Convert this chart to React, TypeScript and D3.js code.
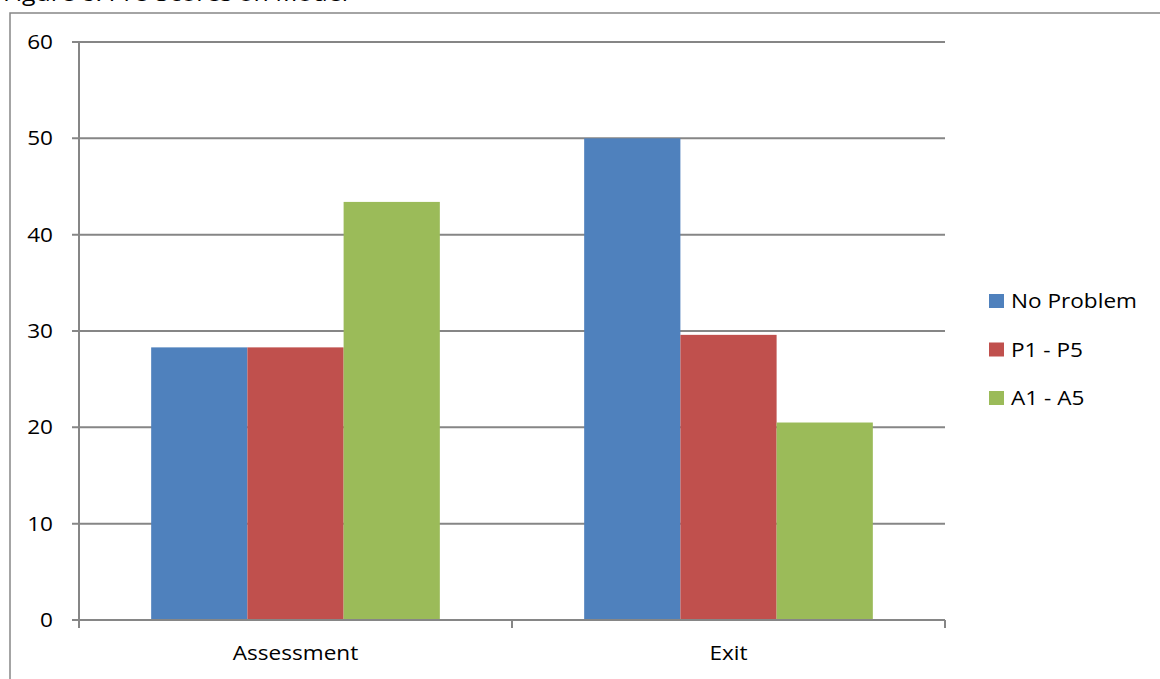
import React from "react";
import * as d3 from "d3";

const categories = ["Assessment", "Exit"];
const seriesNames = ["No Problem", "P1 - P5", "A1 - A5"];
const noProblem = [28.3, 50.0];
const p1p5 = [28.3, 29.6];
const a1a5 = [43.4, 20.5];
const yTicks = [0, 10, 20, 30, 40, 50, 60];
const colors = ["#4F81BD", "#C0504D", "#9BBB59"];
const titleText = "Figure 8: Pre-Scores on Model";

const font = "Open Sans, sans-serif";
const SX = 1.13;

function T(props: { x: number; y: number; anchor?: string; size?: number; children: React.ReactNode }) {
  const { x, y, anchor = "start", size = 20, children } = props;
  return (
    <text transform={`translate(${x},${y}) scale(${SX},1)`} textAnchor={anchor as any} dy="0.35em"
      fontFamily={font} fontSize={size} fill="#000">{children}</text>
  );
}

export default function App() {
  const W = 1160, H = 679;
  const left = 79, right = 945, top = 42, bottom = 620;
  const x = d3.scaleBand<string>().domain(categories).range([left, right]).paddingInner(0).paddingOuter(0);
  const y = d3.scaleLinear().domain([0, 60]).range([bottom, top]);
  const seriesVals = [noProblem, p1p5, a1a5];
  const bw = x.bandwidth();
  const inner = d3.scaleBand<number>().domain([0, 1, 2]).range([bw / 6, bw - bw / 6]).padding(0);
  const grid = "#868686";
  return (
    <svg width={W} height={H} style={{ position: "absolute", left: 0, top: 0, background: "#fff" }}>
      <text transform={`translate(3,1) scale(${SX},1)`} fontFamily={font} fontSize={22} fill="#000">{titleText}</text>
      <rect x={10} y={13} width={1200} height={800} fill="none" stroke={grid} strokeWidth={1.5} />
      {yTicks.map((t) => (
        <g key={t}>
          <line x1={72} x2={right} y1={y(t)} y2={y(t)} stroke={grid} strokeWidth={2} />
          <T x={53} y={y(t)} anchor="end">{t}</T>
        </g>
      ))}
      <line x1={left} x2={left} y1={top} y2={bottom} stroke={grid} strokeWidth={2} />
      {seriesVals.map((vals, si) =>
        categories.map((c, ci) => (
          <rect key={si + "-" + ci}
            x={(x(c) as number) + (inner(si) as number)}
            y={y(vals[ci])}
            width={inner.bandwidth()}
            height={bottom - y(vals[ci])}
            fill={colors[si]} />
        ))
      )}
      <line x1={left} x2={right} y1={bottom} y2={bottom} stroke={grid} strokeWidth={2} />
      {[...categories.map((c) => x(c) as number), right].map((p, i) => (
        <line key={i} x1={p} x2={p} y1={bottom} y2={bottom + 8} stroke={grid} strokeWidth={2} />
      ))}
      {categories.map((c) => (
        <T key={c} x={(x(c) as number) + bw / 2} y={653} anchor="middle">{c}</T>
      ))}
      {seriesNames.map((n, i) => (
        <g key={n}>
          <rect x={989} y={294 + i * 48.5} width={15} height={14} fill={colors[i]} />
          <T x={1011} y={301 + i * 48.5}>{n}</T>
        </g>
      ))}
    </svg>
  );
}
